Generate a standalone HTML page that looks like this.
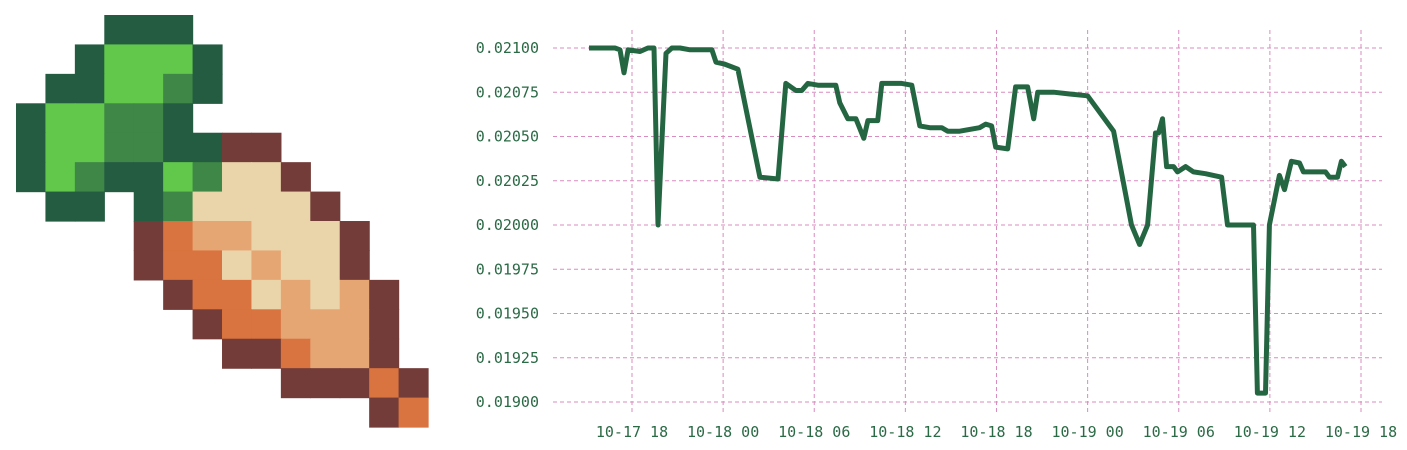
<!DOCTYPE html>
<html><head><meta charset="utf-8"><style>
html,body{margin:0;padding:0;background:#fff;width:1407px;height:450px;overflow:hidden}
svg{display:block}
text{font-family:"DejaVu Sans Mono","Liberation Mono",monospace;font-size:15px;fill:#2a6a45}
</style></head><body>
<svg id="root" width="1407" height="450">
<g id="art"></g>
<g id="grid"></g>
<g id="yticks"></g>
<g id="xticks"></g>
<path id="line" fill="none" stroke="#256642" stroke-width="5" stroke-linejoin="round"/>
</svg>
<script>
const yTicks=[0.019,0.01925,0.0195,0.01975,0.02,0.02025,0.0205,0.02075,0.021];
const xTickHours=[0,6,12,18,24,30,36,42,48];
const xTickLabels=["10-17 18","10-18 00","10-18 06","10-18 12","10-18 18","10-19 00","10-19 06","10-19 12","10-19 18"];
const hours=[-2.83,-1.12,-0.79,-0.53,-0.26,0.53,1.05,1.45,1.71,2.24,2.63,3.16,3.82,4.47,5.26,5.53,6.05,6.97,8.42,9.61,10.13,10.79,11.18,11.58,12.24,13.42,13.68,14.21,14.74,15.26,15.53,16.18,16.45,17.76,18.42,18.95,19.61,20.39,20.79,21.58,22.89,23.29,23.68,23.95,24.74,25.26,26.05,26.45,26.71,27.76,28.82,30.0,31.71,32.89,33.42,33.95,34.47,34.67,34.93,35.2,35.66,35.92,36.45,36.97,37.76,38.29,38.82,39.21,40.92,41.18,41.71,41.97,42.63,42.96,43.42,43.95,44.21,45.66,45.92,46.45,46.71,46.97];
const prices=[0.02100,0.02100,0.02099,0.02086,0.02099,0.02098,0.02100,0.02100,0.02000,0.02097,0.02100,0.02100,0.02099,0.02099,0.02099,0.02092,0.02091,0.02088,0.02027,0.02026,0.02080,0.02076,0.02076,0.02080,0.02079,0.02079,0.02069,0.02060,0.02060,0.02049,0.02059,0.02059,0.02080,0.02080,0.02079,0.02056,0.02055,0.02055,0.02053,0.02053,0.02055,0.02057,0.02056,0.02044,0.02043,0.02078,0.02078,0.02060,0.02075,0.02075,0.02074,0.02073,0.02053,0.02000,0.01989,0.02000,0.02052,0.02052,0.02060,0.02033,0.02033,0.02030,0.02033,0.02030,0.02029,0.02028,0.02027,0.02000,0.02000,0.01905,0.01905,0.02000,0.02028,0.02020,0.02036,0.02035,0.02030,0.02030,0.02027,0.02027,0.02036,0.02033];
const NS="http://www.w3.org/2000/svg";
const X=h=>632+h*(729/48);
const Y=v=>402-(v-0.019)/0.002*354;
const grid=document.getElementById('grid'),yt=document.getElementById('yticks'),xt=document.getElementById('xticks');
function mk(t,a,p){const e=document.createElementNS(NS,t);for(const k in a)e.setAttribute(k,a[k]);p.appendChild(e);return e;}
yTicks.forEach(v=>{
 const l=mk('line',{x1:553,x2:1382,y1:Y(v),y2:Y(v),stroke:'#d98cbf','stroke-width':1,'stroke-dasharray':'4,3'},grid);
 
 
 const t=mk('text',{x:539,y:Y(v)+5,'text-anchor':'end'},yt);t.textContent=v.toFixed(5);
 
 
});
xTickHours.forEach((h,i)=>{
 const l=mk('line',{x1:X(h),x2:X(h),y1:30,y2:412,stroke:'#d98cbf','stroke-width':1,'stroke-dasharray':'4,3'},grid);
 
 
 const t=mk('text',{x:X(h),y:437,'text-anchor':'middle'},xt);t.textContent=xTickLabels[i];
 
 
});
document.getElementById('line').setAttribute('d',hours.map((h,i)=>(i?'L':'M')+X(h).toFixed(1)+','+Y(prices[i]).toFixed(1)).join(''));
const C={D:'#245c42',L:'#62c84c',M:'#3e8746',B:'#733c38',O:'#d9733f',P:'#e5a673',C:'#ead5aa','.':null};
const rows=[
"...DDD........",
"..DLLLD.......",
".DDLLMD.......",
"DLLMMD........",
"DLLMMDDBB.....",
"DLMDDLMCCB....",
".DD.DMCCCCB...",
"....BOPPCCCB..",
"....BOOCPCCB..",
".....BOOCPCPB.",
"......BOOPPPB.",
".......BBOPPB.",
".........BBBOB",
"............BO"];
const art=document.getElementById('art');const s=29.43;
rows.forEach((r,ri)=>[...r].forEach((c,ci)=>{if(!C[c])return;
 const e=mk('rect',{x:(16+ci*s).toFixed(2),y:(15+ri*s).toFixed(2),width:s+0.6,height:s+0.6,fill:C[c]},art);
 
 
}));
</script>
</body></html>
